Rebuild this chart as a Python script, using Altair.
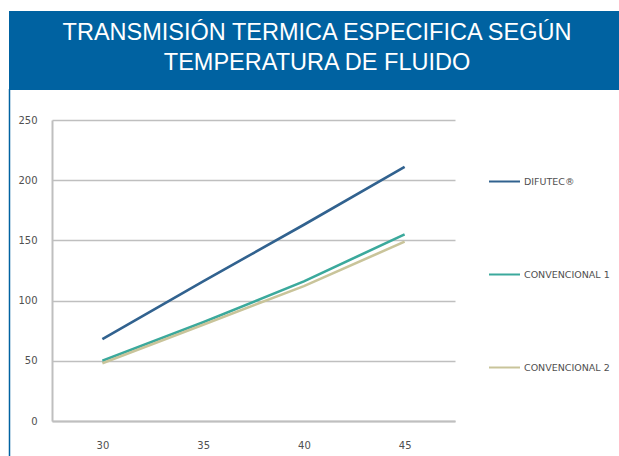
import altair as alt
import pandas as pd

temps = ["30", "35", "40", "45"]
series_names = ["DIFUTEC®", "CONVENCIONAL 1", "CONVENCIONAL 2"]
difutec = [68, 116, 163, 211]
conv1 = [50, 82, 116, 155]
conv2 = [48, 80, 112, 149]
colors = ["#31628F", "#3BA99C", "#C9C49A"]
title_lines = ["TRANSMISIÓN TERMICA ESPECIFICA SEGÚN", "TEMPERATURA DE FLUIDO"]
y_ticks = [0, 50, 100, 150, 200, 250]

rows = []
for name, vals in zip(series_names, [difutec, conv1, conv2]):
    for t, v in zip(temps, vals):
        rows.append({"temp": t, "serie": name, "valor": v})
df = pd.DataFrame(rows)

W, H = 403, 301
PL, PT = 52, 120
LBL_FONT = "DejaVu Sans"

lines = alt.Chart(df).mark_line(strokeWidth=2.6).encode(
    x=alt.X("temp:O", sort=temps, title=None,
            axis=alt.Axis(labelAngle=0, ticks=False, domain=True, domainColor="#BFBFBF",
                          domainWidth=2, labelPadding=19, labelFontSize=10,
                          labelColor="#505050", labelFont=LBL_FONT, grid=False)),
    y=alt.Y("valor:Q", scale=alt.Scale(domain=[0, 250], nice=False), title=None,
            axis=alt.Axis(values=y_ticks, ticks=False, domain=True, domainColor="#BFBFBF",
                          domainWidth=2, labelPadding=15, labelFontSize=10,
                          labelColor="#505050", labelFont=LBL_FONT,
                          grid=True, gridColor="#BFBFBF", gridWidth=1.6)),
    color=alt.Color("serie:N", sort=series_names,
                    scale=alt.Scale(domain=series_names, range=colors),
                    legend=alt.Legend(orient="none", legendX=436, legendY=45, title=None,
                                      symbolType="stroke", symbolSize=961,
                                      symbolStrokeWidth=2, labelFontSize=9.5,
                                      labelColor="#505050", labelFont=LBL_FONT,
                                      labelOffset=3, rowPadding=72)),
    order=alt.Order("serie:N"),
)

one = alt.Data(values=[{}])

banner = alt.Chart(one).mark_rect(color="#0062A1").encode(
    x=alt.value(-PL + 9), x2=alt.value(619 - PL), y=alt.value(-PT + 11), y2=alt.value(-PT + 90)
)
border = alt.Chart(one).mark_rule(color="#0062A1", strokeWidth=1.5).encode(
    x=alt.value(-PL + 9.5), y=alt.value(-PT + 89), y2=alt.value(456 - PT)
)
t1 = alt.Chart(one).mark_text(text=title_lines[0], color="white", font="Liberation Sans",
                              fontSize=23.5, align="center", baseline="alphabetic").encode(
    x=alt.value(317 - PL), y=alt.value(40 - PT)
)
t2 = alt.Chart(one).mark_text(text=title_lines[1], color="white", font="Liberation Sans",
                              fontSize=23.5, align="center", baseline="alphabetic").encode(
    x=alt.value(317 - PL), y=alt.value(70 - PT)
)

chart = alt.layer(banner, border, t1, t2, lines).properties(
    width=W, height=H,
    autosize="none",
    padding={"left": PL, "top": PT, "right": 619 - PL - W, "bottom": 456 - PT - H},
    background="white",
).configure_view(stroke=None)

chart.save("out.html", embed_options={"renderer": "svg", "actions": False})
